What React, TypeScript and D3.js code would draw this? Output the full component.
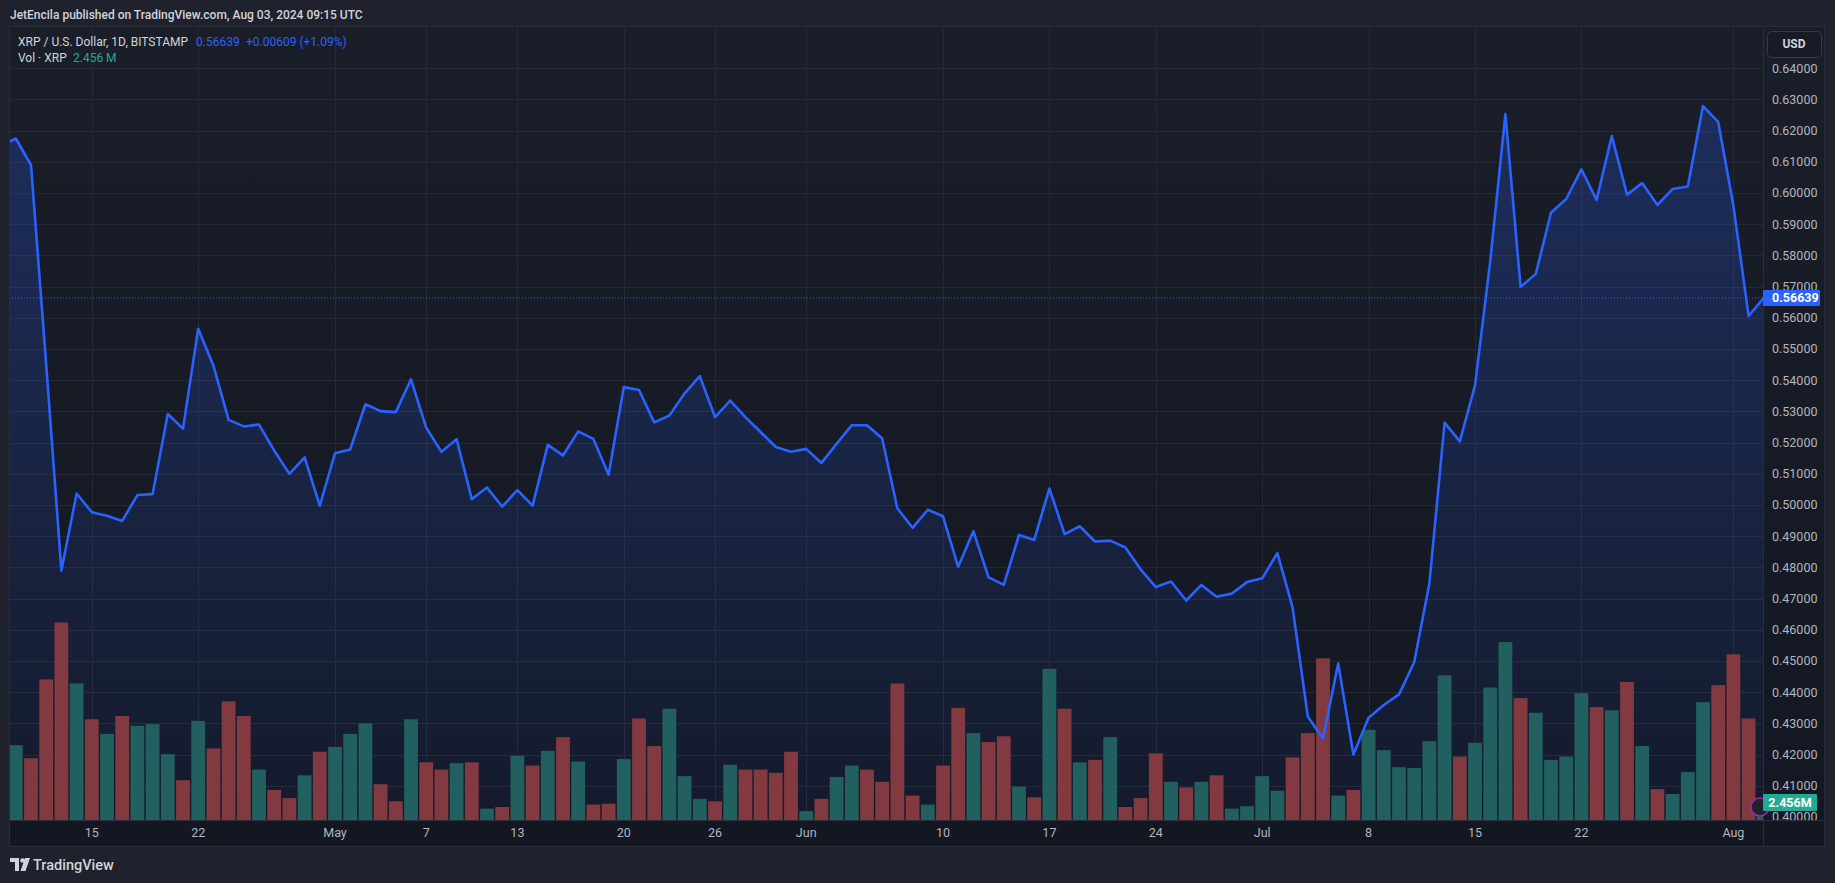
import React from 'react';
import * as d3 from 'd3';

// XRP / USD daily closes, Bitstamp (first value is Apr 9, clipped at the left edge)
const firstDay = Date.UTC(2024, 3, 9);
const closes = [
  0.6150,
  0.6175, 0.6090, 0.5450, 0.4790, 0.5037, 0.4977, 0.4966, 0.4949, 0.5032, 0.5035,
  0.5292, 0.5245, 0.5565, 0.5447, 0.5273, 0.5252, 0.5258, 0.5175, 0.5100, 0.5153,
  0.4998, 0.5166, 0.5178, 0.5323, 0.5301, 0.5298, 0.5403, 0.5248, 0.5171, 0.5211,
  0.5019, 0.5056, 0.4995, 0.5048, 0.4998, 0.5193, 0.5159, 0.5236, 0.5212, 0.5097,
  0.5378, 0.5369, 0.5265, 0.5287, 0.5358, 0.5413, 0.5282, 0.5335, 0.5282, 0.5234,
  0.5186, 0.5171, 0.5180, 0.5135, 0.5196, 0.5256, 0.5256, 0.5213, 0.4989, 0.4927,
  0.4985, 0.4964, 0.4802, 0.4916, 0.4768, 0.4744, 0.4904, 0.4888, 0.5053, 0.4907,
  0.4932, 0.4883, 0.4886, 0.4864, 0.4794, 0.4737, 0.4755, 0.4694, 0.4744, 0.4706,
  0.4716, 0.4753, 0.4765, 0.4846, 0.4672, 0.4322, 0.4252, 0.4492, 0.4200, 0.4318,
  0.4359, 0.4393, 0.4496, 0.4749, 0.5264, 0.5204, 0.5383, 0.5780, 0.6253, 0.5699,
  0.5741, 0.5937, 0.5981, 0.6076, 0.5978, 0.6183, 0.5995, 0.6032, 0.5962, 0.6013,
  0.6021, 0.6279, 0.6228, 0.5960, 0.5606, 0.56639,
];

// volume in millions of XRP
const volumes = [
  8.0,
  9.2, 7.6, 17.3, 24.3, 16.8, 12.4, 10.6, 12.8, 11.6, 11.8,
  8.1, 4.9, 12.2, 8.8, 14.6, 12.8, 6.2, 3.7, 2.7, 5.5,
  8.4, 9.0, 10.6, 11.9, 4.4, 2.3, 12.4, 7.1, 6.2, 7.0,
  7.1, 1.4, 1.6, 7.9, 6.7, 8.5, 10.2, 7.2, 1.9, 2.0,
  7.5, 12.5, 9.1, 13.7, 5.4, 2.6, 2.3, 6.8, 6.2, 6.2,
  5.8, 8.4, 1.1, 2.6, 5.3, 6.7, 6.2, 4.7, 16.8, 3.0,
  1.9, 6.7, 13.8, 10.7, 9.6, 10.3, 4.1, 2.8, 18.6, 13.7,
  7.1, 7.4, 10.2, 1.6, 2.7, 8.2, 4.7, 4.0, 4.7, 5.5,
  1.4, 1.7, 5.4, 3.6, 7.7, 10.7, 19.9, 3.0, 3.7, 11.1,
  8.6, 6.5, 6.4, 9.7, 17.8, 7.8, 9.5, 16.3, 21.9, 15.0,
  13.2, 7.4, 7.8, 15.6, 13.9, 13.5, 17.0, 9.1, 3.8, 3.2,
  5.9, 14.5, 16.6, 20.4, 12.5, 2.456,
];

// 1 = up day (teal), 0 = down day (red)
const volumeUp = [
  1,
  1, 0, 0, 0, 1, 0, 1, 0, 1, 1,
  1, 0, 1, 0, 0, 0, 1, 0, 0, 1,
  0, 1, 1, 1, 0, 0, 1, 0, 0, 1,
  0, 1, 0, 1, 0, 1, 0, 1, 0, 0,
  1, 0, 0, 1, 1, 1, 0, 1, 0, 0,
  0, 0, 1, 0, 1, 1, 0, 0, 0, 0,
  1, 0, 0, 1, 0, 0, 1, 0, 1, 0,
  1, 0, 1, 0, 0, 0, 1, 0, 1, 0,
  1, 1, 1, 1, 0, 0, 0, 1, 0, 1,
  1, 1, 1, 1, 1, 0, 1, 1, 1, 0,
  1, 1, 1, 1, 0, 1, 0, 1, 0, 1,
  1, 1, 0, 0, 0, 1,
];

const timeTicks = [
  [3, 15], [3, 22], [4, 1], [4, 7], [4, 13], [4, 20], [4, 26], [5, 1],
  [5, 10], [5, 17], [5, 24], [6, 1], [6, 8], [6, 15], [6, 22], [7, 1],
];
const timeLabels = ['15', '22', 'May', '7', '13', '20', '26', 'Jun', '10', '17', '24', 'Jul', '8', '15', '22', 'Aug'];

const priceTicks = [
  0.40, 0.41, 0.42, 0.43, 0.44, 0.45, 0.46, 0.47, 0.48, 0.49, 0.50, 0.51, 0.52,
  0.53, 0.54, 0.55, 0.56, 0.57, 0.58, 0.59, 0.60, 0.61, 0.62, 0.63, 0.64,
];

const lastPrice = 0.56639;
const lastVolumeLabel = '2.456M';

const W = 1835;
const H = 883;
const frame = { left: 9, top: 26, right: 1825, bottom: 847 };
const plotRight = 1763;
const plotBottom = 820;
const font = 'Roboto, "Noto Sans", sans-serif';

const App: React.FC = () => {
  const data = closes.map((c, i) => ({
    date: new Date(firstDay + i * 86400000),
    close: c,
    vol: volumes[i],
    up: volumeUp[i] === 1,
  }));

  const x = d3.scaleUtc()
    .domain([new Date(Date.UTC(2024, 3, 10)), new Date(Date.UTC(2024, 7, 3))])
    .range([15.8, 1763.8]);
  const y = d3.scaleLinear().domain([0.40, 0.64]).range([817, 68.3]);
  const v = d3.scaleLinear().domain([0, 40]).range([plotBottom, plotBottom - 325]);

  const barW = 13.8;

  const line = d3.line<typeof data[0]>().x(d => x(d.date)).y(d => y(d.close));
  const area = d3.area<typeof data[0]>().x(d => x(d.date)).y0(plotBottom).y1(d => y(d.close));

  const lastY = y(lastPrice);
  const lastVolY = v(volumes[volumes.length - 1]);

  return (
    <div style={{ position: 'absolute', left: 0, top: 0 }}>
      <svg width={W} height={H} style={{ display: 'block' }} fontFamily={font}>
        <defs>
          <linearGradient id="bgGrad" x1="0" y1="0" x2="0" y2="1">
            <stop offset="0" stopColor="#1a1e29" />
            <stop offset="1" stopColor="#131722" />
          </linearGradient>
          <linearGradient id="areaGrad" gradientUnits="userSpaceOnUse" x1="0" y1={y(0.63)} x2="0" y2={plotBottom}>
            <stop offset="0" stopColor="#2962ff" stopOpacity={0.24} />
            <stop offset="1" stopColor="#2962ff" stopOpacity={0.04} />
          </linearGradient>
          <clipPath id="plotClip">
            <rect x={frame.left} y={frame.top} width={plotRight - frame.left} height={plotBottom - frame.top} />
          </clipPath>
        </defs>

        <rect x={0} y={0} width={W} height={H} fill="#1f222c" />
        <text x={10} y={18.5} fontSize={12} fontWeight={500} fill="#d1d4dc">
          JetEncila published on TradingView.com, Aug 03, 2024 09:15 UTC
        </text>

        <rect x={frame.left} y={frame.top} width={frame.right - frame.left} height={frame.bottom - frame.top} fill="url(#bgGrad)" />
        <rect x={frame.left} y={plotBottom} width={frame.right - frame.left} height={frame.bottom - plotBottom} fill="#131722" />

        {/* grid */}
        <g stroke="#2a2e39" strokeWidth={1} opacity={0.75}>
          {priceTicks.map(p => (
            <line key={p} x1={frame.left} x2={plotRight} y1={Math.round(y(p)) + 0.5} y2={Math.round(y(p)) + 0.5} />
          ))}
          {timeTicks.map(([m, d]) => {
            const xx = Math.round(x(new Date(Date.UTC(2024, m, d)))) + 0.5;
            return <line key={`${m}-${d}`} x1={xx} x2={xx} y1={frame.top} y2={plotBottom} />;
          })}
        </g>

        <g clipPath="url(#plotClip)">
          <path d={area(data) || ''} fill="url(#areaGrad)" />
          {data.map((d, i) => (
            <rect
              key={i}
              x={x(d.date) - barW / 2}
              y={v(d.vol)}
              width={barW}
              height={plotBottom - v(d.vol)}
              fill={d.up ? '#21605f' : '#823a40'}
            />
          ))}
          <line x1={frame.left} x2={plotRight} y1={lastY} y2={lastY} stroke="#2962ff" strokeWidth={1} strokeDasharray="1 2" />
          <path d={line(data) || ''} fill="none" stroke="#2962ff" strokeWidth={2.6} strokeLinejoin="round" />
        </g>

        {/* legend */}
        <g fontSize={12}>
          <text x={18} y={46} fill="#d1d4dc">XRP / U.S. Dollar, 1D, BITSTAMP</text>
          <text x={196} y={46} fill="#2962ff">0.56639</text>
          <text x={246} y={46} fill="#2962ff">+0.00609 (+1.09%)</text>
          <text x={18} y={62} fill="#d1d4dc">Vol · XRP</text>
          <text x={73} y={62} fill="#22ab94">2.456 M</text>
        </g>

        {/* price axis */}
        <line x1={plotRight + 0.5} x2={plotRight + 0.5} y1={frame.top} y2={frame.bottom} stroke="#2a2e39" />
        <g fontSize={12.5} fill="#b2b5be">
          {priceTicks.map(p => (
            <text key={p} x={1772} y={y(p)} dy="0.35em">{p.toFixed(5)}</text>
          ))}
        </g>
        <rect x={1767.5} y={31.5} width={54} height={26} rx={4} fill="#171b26" stroke="#363a45" />
        <text x={1794} y={44} dy="0.35em" textAnchor="middle" fontSize={12} fontWeight={700} fill="#d1d4dc">USD</text>

        <rect x={plotRight} y={lastY - 8} width={57} height={16} fill="#2962ff" rx={1} />
        <text x={1772} y={lastY} dy="0.36em" fontSize={12.5} fontWeight={700} fill="#ffffff">{lastPrice.toFixed(5)}</text>

        <circle cx={1760} cy={807} r={9} fill="#1f222c" stroke="#9c27b0" strokeWidth={1.5} />
        <rect x={plotRight} y={lastVolY - 6} width={54} height={17} fill="#22ab94" rx={1} />
        <text x={1790} y={lastVolY + 2.5} dy="0.36em" textAnchor="middle" fontSize={12.5} fontWeight={700} fill="#ffffff">{lastVolumeLabel}</text>

        {/* time axis */}
        <line x1={frame.left} x2={frame.right} y1={plotBottom + 0.5} y2={plotBottom + 0.5} stroke="#2a2e39" />
        <g fontSize={12.5} fill="#b2b5be" textAnchor="middle">
          {timeTicks.map(([m, d], i) => (
            <text key={i} x={x(new Date(Date.UTC(2024, m, d)))} y={833} dy="0.35em">{timeLabels[i]}</text>
          ))}
        </g>

        <rect x={frame.left + 0.5} y={frame.top + 0.5} width={frame.right - frame.left - 1} height={frame.bottom - frame.top - 1} fill="none" stroke="#2a2e39" strokeWidth={1} />

        {/* footer logo */}
        <g fill="#d1d4dc">
          <path d="M10 858 H19 V871 H15 V862 H10 Z" />
          <circle cx={22.5} cy={860.5} r={2.3} />
          <path d="M25 858 H30 L25.5 871 H20.5 Z" />
          <text x={33} y={870} fontSize={14.5} fontWeight={500}>TradingView</text>
        </g>
      </svg>
    </div>
  );
};

export default App;
